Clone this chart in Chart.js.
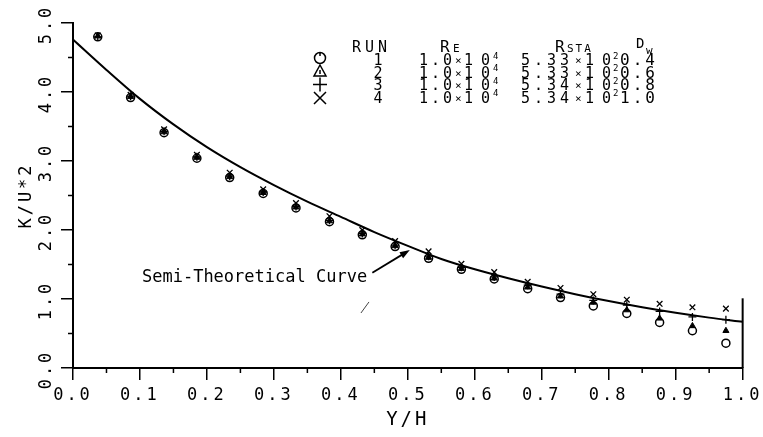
<!DOCTYPE html>
<html>
<head>
<meta charset="utf-8">
<script src="https://cdn.jsdelivr.net/npm/chart.js@4.4.0/dist/chart.umd.min.js"></script>
<style>
  html, body { margin: 0; padding: 0; background: #fff; }
  canvas { display: block; }
</style>
</head>
<body>
<canvas id="chart" width="763" height="437"></canvas>
<script>
/* Measuring stations along the channel depth (Y/H). */
const yOverH = [0.037, 0.086, 0.136, 0.185, 0.234, 0.284, 0.333, 0.383, 0.432, 0.481,
  0.531, 0.580, 0.629, 0.679, 0.728, 0.777, 0.827, 0.876, 0.925, 0.975]

/* K/U*2 for each run. */
const run1 = [4.80, 3.92, 3.41, 3.04, 2.76, 2.53, 2.32, 2.12, 1.93, 1.76,
  1.59, 1.43, 1.29, 1.15, 1.02, 0.90, 0.79, 0.66, 0.54, 0.36]
const run2 = [4.81, 3.93, 3.42, 3.05, 2.77, 2.54, 2.33, 2.13, 1.94, 1.77,
  1.60, 1.44, 1.30, 1.17, 1.04, 0.95, 0.84, 0.72, 0.61, 0.54]
const run3 = [4.80, 3.94, 3.43, 3.06, 2.78, 2.55, 2.34, 2.14, 1.95, 1.78,
  1.62, 1.46, 1.32, 1.20, 1.07, 0.98, 0.91, 0.82, 0.74, 0.70]
const run4 = [4.82, 3.96, 3.46, 3.09, 2.83, 2.59, 2.39, 2.20, 2.00, 1.84,
  1.69, 1.51, 1.39, 1.25, 1.16, 1.07, 0.99, 0.93, 0.88, 0.86]

/* Semi-theoretical curve. */
const curveX = [0.00, 0.05, 0.10, 0.15, 0.20, 0.25, 0.30, 0.35, 0.40, 0.45, 0.50,
  0.55, 0.60, 0.65, 0.70, 0.75, 0.80, 0.85, 0.90, 0.95, 1.00]
const curveY = [4.76, 4.32, 3.90, 3.53, 3.20, 2.91, 2.65, 2.41, 2.19, 1.97, 1.77,
  1.58, 1.43, 1.30, 1.18, 1.07, 0.97, 0.88, 0.80, 0.73, 0.67]

/* Axis ticks. */
const xTicks = [0.0, 0.1, 0.2, 0.3, 0.4, 0.5, 0.6, 0.7, 0.8, 0.9, 1.0]
const xMinorTicks = [0.05, 0.15, 0.25, 0.35, 0.45, 0.55, 0.65, 0.75, 0.85, 0.95]
const yTicks = [0.0, 1.0, 2.0, 3.0, 4.0, 5.0]
const yMinorTicks = [0.5, 1.5, 2.5, 3.5, 4.5]

/* Legend table. */
const runNames = ["1", "2", "3", "4"]
const reMantissa = ["1.0", "1.0", "1.0", "1.0"]
const reExponent = ["4", "4", "4", "4"]
const rstaMantissa = ["5.33", "5.33", "5.34", "5.34"]
const rstaExponent = ["2", "2", "2", "2"]
const dwValues = ["0.4", "0.6", "0.8", "1.0"]

const FONT = "'DejaVu Sans Mono', monospace"

const toPoints = (xs, ys) => xs.map((v, i) => ({ x: v, y: ys[i] }))

/* Draws minor ticks, rotated y labels, legend table and the annotation. */
const decorPlugin = {
  id: "decor",
  beforeDraw: chart => {
    const ctx = chart.ctx
    ctx.save()
    ctx.fillStyle = "#fff"
    ctx.fillRect(0, 0, chart.width, chart.height)
    ctx.restore()
    ctx.letterSpacing = "3px"
  },
  afterDraw: chart => {
    const ctx = chart.ctx
    const x = chart.scales.x
    const y = chart.scales.y

    ctx.save()
    ctx.strokeStyle = "#000"
    ctx.fillStyle = "#000"

    /* Minor ticks. */
    ctx.lineWidth = 1.5
    ctx.beginPath()
    xMinorTicks.forEach(v => {
      const px = x.getPixelForValue(v)
      ctx.moveTo(px, y.bottom)
      ctx.lineTo(px, y.bottom + 5)
    })
    yMinorTicks.forEach(v => {
      const py = y.getPixelForValue(v)
      ctx.moveTo(x.left, py)
      ctx.lineTo(x.left - 5, py)
    })
    ctx.stroke()

    /* Right edge line. */
    ctx.lineWidth = 2
    ctx.beginPath()
    ctx.moveTo(x.getPixelForValue(1), y.getPixelForValue(1.01))
    ctx.lineTo(x.getPixelForValue(1), y.bottom)
    ctx.stroke()

    /* Rotated y tick labels. */
    ctx.font = "17px " + FONT
    ctx.letterSpacing = "3px"
    ctx.textAlign = "center"
    ctx.textBaseline = "middle"
    yTicks.forEach(v => {
      ctx.save()
      ctx.translate(x.left - 26, y.getPixelForValue(v) + 3)
      ctx.rotate(-Math.PI / 2)
      ctx.fillText(v.toFixed(1), 1.5, 0)
      ctx.restore()
    })

    /* Annotation with arrow. */
    const ax0 = x.getPixelForValue(0.447), ay0 = y.getPixelForValue(1.38)
    const ax1 = x.getPixelForValue(0.503), ay1 = y.getPixelForValue(1.71)
    const ang = Math.atan2(ay1 - ay0, ax1 - ax0)
    ctx.lineWidth = 1.8
    ctx.beginPath()
    ctx.moveTo(ax0, ay0)
    ctx.lineTo(ax1 - 6 * Math.cos(ang), ay1 - 6 * Math.sin(ang))
    ctx.stroke()
    ctx.beginPath()
    ctx.moveTo(ax1, ay1)
    ctx.lineTo(ax1 - 10 * Math.cos(ang) + 3.5 * Math.sin(ang), ay1 - 10 * Math.sin(ang) - 3.5 * Math.cos(ang))
    ctx.lineTo(ax1 - 10 * Math.cos(ang) - 3.5 * Math.sin(ang), ay1 - 10 * Math.sin(ang) + 3.5 * Math.cos(ang))
    ctx.closePath()
    ctx.fill()

    ctx.letterSpacing = "0px"
    ctx.textAlign = "left"
    ctx.fillText("Semi-Theoretical Curve", x.getPixelForValue(0.103), y.getPixelForValue(1.31))

    /* Small stray stroke from the original plot. */
    ctx.lineWidth = 1
    ctx.strokeStyle = "#444"
    ctx.beginPath()
    ctx.moveTo(x.getPixelForValue(0.442), y.getPixelForValue(0.957))
    ctx.lineTo(x.getPixelForValue(0.430), y.getPixelForValue(0.797))
    ctx.stroke()
    ctx.strokeStyle = "#000"

    /* Legend table header. */
    ctx.textBaseline = "alphabetic"
    ctx.textAlign = "left"
    ctx.font = "15px " + FONT
    ctx.letterSpacing = "4px"
    ctx.fillText("RUN", 352, 52)
    ctx.font = "16px " + FONT
    ctx.letterSpacing = "0px"
    ctx.fillText("R", 440, 52)
    ctx.fillText("R", 555, 52)
    ctx.font = "14px " + FONT
    ctx.fillText("D", 636, 48)
    ctx.font = "11px " + FONT
    ctx.letterSpacing = "2px"
    ctx.fillText("E", 453, 52)
    ctx.fillText("STA", 567, 52)
    ctx.fillText("w", 646, 54)

    /* Legend table rows. */
    const rowBase = [65, 77.5, 90, 102.5]
    const symbolY = [58, 71, 84.5, 98]
    const runSets = chart.data.datasets.slice(0, 4)

    runSets.forEach((ds, i) => {
      ctx.lineWidth = 1.5
      const sx = 320, sy = symbolY[i]
      ctx.beginPath()
      if (ds.pointStyle === "circle") {
        ctx.arc(sx, sy, 5.5, 0, Math.PI * 2)
        ctx.moveTo(sx, sy - 5.5)
        ctx.lineTo(sx, sy - 2)
      } else if (ds.pointStyle === "triangle") {
        ctx.moveTo(sx, sy - 6)
        ctx.lineTo(sx + 6, sy + 5)
        ctx.lineTo(sx - 6, sy + 5)
        ctx.closePath()
        ctx.moveTo(sx, sy - 1)
        ctx.lineTo(sx, sy + 3)
      } else if (ds.pointStyle === "cross") {
        ctx.moveTo(sx - 7, sy)
        ctx.lineTo(sx + 7, sy)
        ctx.moveTo(sx, sy - 7)
        ctx.lineTo(sx, sy + 7)
      } else {
        ctx.moveTo(sx - 6, sy - 6)
        ctx.lineTo(sx + 6, sy + 6)
        ctx.moveTo(sx + 6, sy - 6)
        ctx.lineTo(sx - 6, sy + 6)
      }
      ctx.stroke()

      const b = rowBase[i]
      ctx.font = "15px " + FONT
      ctx.letterSpacing = "0px"
      ctx.textAlign = "center"
      ctx.fillText(runNames[i], 378, b)
      ctx.textAlign = "left"
      ctx.letterSpacing = "3px"
      ctx.fillText(reMantissa[i], 419, b)
      ctx.letterSpacing = "4px"
      ctx.fillText(rstaMantissa[i], 521, b)
      ctx.letterSpacing = "8px"
      ctx.fillText("10", 464, b)
      ctx.fillText("10", 585, b)
      ctx.font = "16px " + FONT
      ctx.letterSpacing = "3px"
      ctx.fillText(dwValues[i], 620, b)
      ctx.font = "11px " + FONT
      ctx.letterSpacing = "0px"
      ctx.fillText("\u00d7", 455, b - 1)
      ctx.fillText("\u00d7", 575, b - 1)
      ctx.font = "9px " + FONT
      ctx.fillText(reExponent[i], 493, b - 6.5)
      ctx.fillText(rstaExponent[i], 613, b - 6.5)
    })

    ctx.restore()
  }
}

Chart.defaults.font.family = FONT
Chart.defaults.color = "#000"

const ctx = document.getElementById("chart").getContext("2d")
const chart = new Chart(ctx, {
  type: "scatter",
  data: {
    datasets: [{
      label: "1",
      data: toPoints(yOverH, run1),
      pointStyle: "circle",
      pointRadius: 4,
      borderColor: "#000",
      backgroundColor: "rgba(0,0,0,0)",
      borderWidth: 1.5
    }, {
      label: "2",
      data: toPoints(yOverH, run2),
      pointStyle: "triangle",
      pointRadius: 3.5,
      borderColor: "#000",
      backgroundColor: "#000",
      borderWidth: 1
    }, {
      label: "3",
      data: toPoints(yOverH, run3),
      pointStyle: "cross",
      pointRadius: 4,
      borderColor: "#000",
      borderWidth: 1.3
    }, {
      label: "4",
      data: toPoints(yOverH, run4),
      pointStyle: "crossRot",
      pointRadius: 4,
      borderColor: "#000",
      borderWidth: 1.3
    }, {
      label: "Semi-Theoretical Curve",
      data: toPoints(curveX, curveY),
      showLine: true,
      pointRadius: 0,
      borderColor: "#000",
      borderWidth: 2,
      tension: 0.4,
      cubicInterpolationMode: "monotone"
    }]
  },
  options: {
    responsive: false,
    animation: false,
    layout: {
      padding: { top: 23, right: 18, left: 0, bottom: 0 }
    },
    plugins: {
      legend: { display: false },
      tooltip: { enabled: false }
    },
    scales: {
      x: {
        type: "linear",
        min: 0,
        max: 1,
        afterFit: scale => { scale.height = 69 },
        afterBuildTicks: scale => { scale.ticks = xTicks.map(v => ({ value: v })) },
        ticks: {
          font: { size: 17 },
          padding: 5,
          maxRotation: 0,
          autoSkip: false,
          callback: v => v.toFixed(1)
        },
        grid: { drawOnChartArea: false, tickLength: 12, color: "#000", lineWidth: 1.5 },
        border: { color: "#000", width: 2 },
        title: { display: true, text: "Y/H", font: { size: 19 }, padding: { top: 0, bottom: 6 } }
      },
      y: {
        min: 0,
        max: 5,
        afterFit: scale => { scale.width = 73 },
        afterBuildTicks: scale => { scale.ticks = yTicks.map(v => ({ value: v })) },
        ticks: { display: false },
        grid: { drawOnChartArea: false, tickLength: 12, color: "#000", lineWidth: 1.5 },
        border: { color: "#000", width: 2 },
        title: { display: true, text: "K/U*2", font: { size: 17 }, padding: 16 }
      }
    }
  },
  plugins: [decorPlugin]
})
</script>
</body>
</html>
